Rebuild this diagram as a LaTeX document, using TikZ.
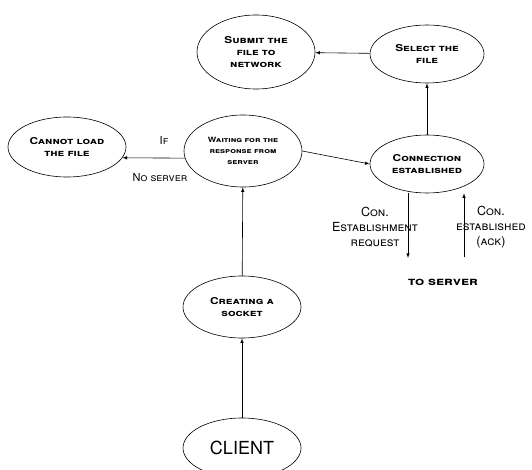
\documentclass[tikz,border=0pt]{standalone}
\usepackage{fontspec}
\setmainfont{TeX Gyre Heros}
\newfontfamily\widefont[FakeStretch=1.25]{TeX Gyre Heros}
\usetikzlibrary{positioning}
\usetikzlibrary{shapes.geometric}

\begin{document}
\begin{tikzpicture}[
    x=1pt, y=-1pt,
    line width=0.6pt,
    font=\widefont\fontsize{9.5}{12}\selectfont\bfseries\scshape,
    state/.style={ellipse,draw,align=center,inner sep=0pt,minimum width=118pt,minimum height=60pt},
    note/.style={font=\fontsize{11}{13}\selectfont\scshape,align=center,inner sep=0pt},
    arrow/.style={->,>=latex}
]
\useasboundingbox (0,0) rectangle (532,470);

\node[state,minimum height=74pt] (submit) at (256,52) {Submit the\\file to\\network};
\node[state,minimum width=114pt,minimum height=58pt] (select) at (427,54) {Select the\\file};
\node[state] (cannot) at (67,147) {Cannot load\\the file};
\node[state,minimum height=72pt,font=\widefont\fontsize{7.2}{11}\selectfont\bfseries\scshape] (waiting) at (243,151) {Waiting for the\\response from\\server};
\node[state,minimum width=114pt,minimum height=58pt] (conn) at (427,164) {Connection\\established};
\node[state,minimum height=62pt] (socket) at (242,307) {Creating a\\socket};
\node[state,font=\fontsize{18}{20}\selectfont] (client) at (242,448) {CLIENT};

\coordinate (reqend) at (408,258);
\coordinate (ackstart) at (464,257);

\draw[arrow] (select) -- (submit);
\draw[arrow] (conn) -- (select);
\draw[arrow] (waiting.east) -- (conn.west);
\draw[arrow] (waiting.187) -- (cannot.-11);
\draw[arrow] (socket) -- (waiting);
\draw[arrow] (client) -- (socket);
\draw[arrow] (reqend |- conn.south) -- (reqend);
\draw[arrow] (ackstart) -- (ackstart |- conn.south);

\node[note] (iflbl) at (164,140) {If};
\node[note] (noserver) at (160,178) {No server};
\node[note,font=\fontsize{12.5}{15}\selectfont\scshape] (reqlbl) at (375,227) {Con.\\Establishment\\request};
\node[note,font=\fontsize{12.5}{15}\selectfont\scshape] (acklbl) at (491,227) {Con.\\established\\(ack)};
\node[font=\widefont\fontsize{11.5}{13}\selectfont\bfseries\scshape] (toserver) at (443,282) {to server};
\end{tikzpicture}
\end{document}
